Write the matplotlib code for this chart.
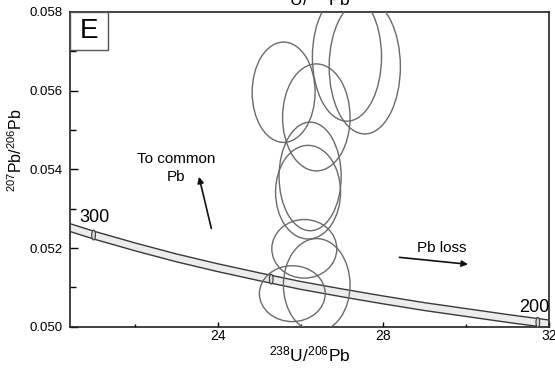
import matplotlib
matplotlib.use("Agg")
import matplotlib.pyplot as plt
from matplotlib.patches import Ellipse, Rectangle
from matplotlib.ticker import MultipleLocator, FormatStrFormatter
import numpy as np

plt.rcParams['font.family'] = ['Liberation Sans', 'DejaVu Sans']
plt.rcParams['mathtext.fontset'] = 'custom'
plt.rcParams['mathtext.rm'] = 'Liberation Sans'
plt.rcParams['mathtext.it'] = 'Liberation Sans:italic'
plt.rcParams['mathtext.bf'] = 'Liberation Sans:bold'

# concordia band centre (238U/206Pb, 207Pb/206Pb)
curve_x = [20.43, 21, 22, 23, 24, 25, 26, 27, 28, 29, 30, 31, 32]
curve_y = [0.05252, 0.05233, 0.05203, 0.05175, 0.05150, 0.05127, 0.05105,
           0.05086, 0.05068, 0.05051, 0.05036, 0.05021, 0.05007]
band_half = 0.0001

# age markers on the concordia (Ma)
mark_age = [200, 250, 300]
mark_x = [31.73, 25.29, 21.0]
mark_y = [0.05011, 0.05121, 0.05233]

# error ellipses
ell_x = [25.59, 26.38, 27.12, 27.55, 26.23, 26.18, 26.09, 26.39, 25.80]
ell_y = [0.05596, 0.05532, 0.05686, 0.05661, 0.05382, 0.05342, 0.05198, 0.05106, 0.05084]
ell_w = [1.52, 1.63, 1.67, 1.72, 1.50, 1.57, 1.57, 1.61, 1.59]
ell_h = [0.00255, 0.00272, 0.00327, 0.00342, 0.00276, 0.00238, 0.00149, 0.00236, 0.00142]

fig = plt.figure(figsize=(5.55, 3.68), dpi=100)
ax = fig.add_axes([0.1261, 0.1122, 0.8631, 0.8552])

cx = np.array(curve_x)
cy = np.array(curve_y)
ax.fill_between(cx, cy - band_half, cy + band_half, facecolor='#ececec', edgecolor='none', zorder=2)
ax.plot(cx, cy + band_half, color='#3a3a3a', lw=1.0, zorder=3)
ax.plot(cx, cy - band_half, color='#3a3a3a', lw=1.0, zorder=3)

for x, y in zip(mark_x, mark_y):
    ax.add_patch(Ellipse((x, y), width=0.09, height=0.00025, facecolor='#d8d8d8',
                         edgecolor='#3a3a3a', lw=0.8, zorder=4))

ax.text(21.01, 0.05278, '300', fontsize=13, ha='center', va='center')
ax.text(31.64, 0.05049, '200', fontsize=13, ha='center', va='center')

for x, y, w, h in zip(ell_x, ell_y, ell_w, ell_h):
    ax.add_patch(Ellipse((x, y), width=w, height=h, facecolor='none',
                         edgecolor='#6a6a6a', lw=1.0, zorder=5))

# arrows and notes
ax.annotate('', xy=(23.53, 0.05388), xytext=(23.86, 0.05243),
            arrowprops=dict(arrowstyle='-|>', color='#111111', lw=1.2, mutation_scale=9))
ax.text(22.99, 0.05403, 'To common\nPb', fontsize=11, ha='center', va='center',
        linespacing=1.35)
ax.annotate('', xy=(30.11, 0.05158), xytext=(28.32, 0.05177),
            arrowprops=dict(arrowstyle='-|>', color='#111111', lw=1.2, mutation_scale=9))
ax.text(29.41, 0.05200, 'Pb loss', fontsize=11, ha='center', va='center')

# panel letter box
ax.add_patch(Rectangle((0, 0.88), 0.08, 0.12, transform=ax.transAxes,
                       facecolor='white', edgecolor='#555555', lw=1.0, zorder=6))
ax.text(0.04, 0.94, 'E', transform=ax.transAxes, fontsize=20, ha='center',
        va='center', zorder=7)

ax.set_xlim(20.43, 32)
ax.set_ylim(0.050, 0.058)
ax.xaxis.set_major_locator(MultipleLocator(4))
ax.xaxis.set_minor_locator(MultipleLocator(2))
ax.yaxis.set_major_locator(MultipleLocator(0.002))
ax.yaxis.set_minor_locator(MultipleLocator(0.001))
ax.yaxis.set_major_formatter(FormatStrFormatter('%.3f'))
ax.tick_params(axis='x', which='major', direction='in', length=3.5, width=1, pad=2, labelsize=10)
ax.tick_params(axis='x', which='minor', direction='in', length=2.5, width=1)
ax.tick_params(axis='y', which='major', direction='in', length=6, width=1, pad=5, labelsize=9.5)
ax.tick_params(axis='y', which='minor', direction='in', length=4.5, width=1)
for s in ax.spines.values():
    s.set_linewidth(1.2)
    s.set_color('#222222')

ax.set_xlabel(r'$^{\mathrm{238}}$U/$^{\mathrm{206}}$Pb', fontsize=12.5)
ax.set_ylabel(r'$^{\mathrm{207}}$Pb/$^{\mathrm{206}}$Pb', fontsize=11.5)
ax.yaxis.set_label_coords(-0.094, 0.56)
ax.xaxis.set_label_coords(0.5, -0.058)

# clipped label of the panel above
fig.text(310 / 555, 1 - 8 / 368, r'$^{\mathrm{238}}$U/$^{\mathrm{206}}$Pb', fontsize=12.5,
         ha='center', va='bottom')

fig.savefig('out.png', dpi=100)
